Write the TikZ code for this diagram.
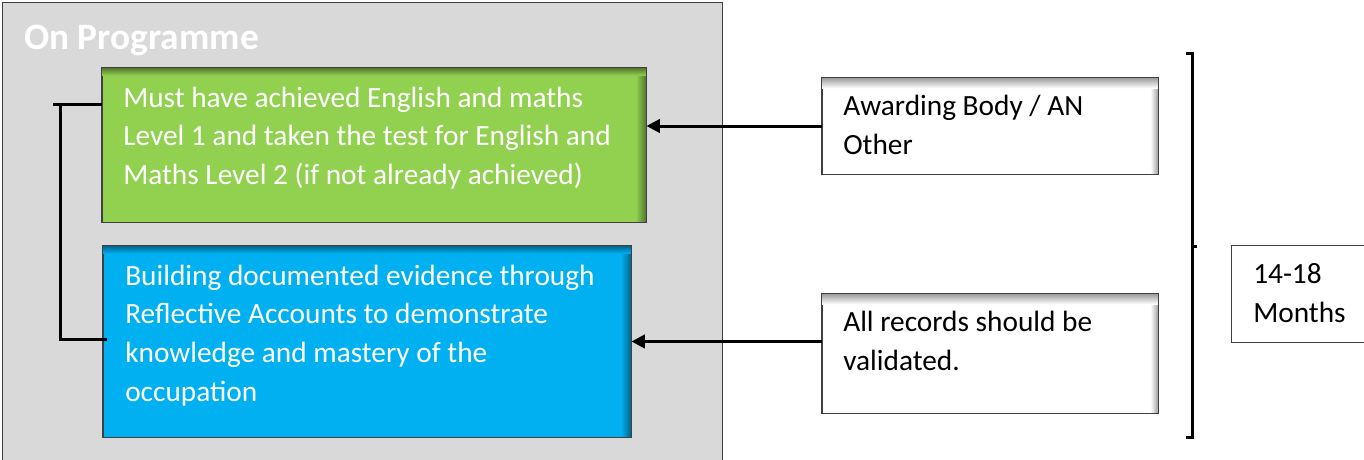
\documentclass[tikz,border=0pt]{standalone}
\usepackage{fontspec}
\setmainfont{Carlito}
\usetikzlibrary{arrows.meta}
\definecolor{grayfill}{HTML}{D9D9D9}
\definecolor{greenfill}{HTML}{92D050}
\definecolor{bluefill}{HTML}{00B0F0}
\definecolor{edgegray}{HTML}{404040}
\begin{document}
\begin{tikzpicture}[x=0.75pt,y=-0.75pt,
  box/.style={rectangle, draw=edgegray, line width=0.75pt, inner sep=0pt},
  bodytext/.style={anchor=base west, align=left, inner sep=0pt,
    font=\fontsize{22pt}{29pt}\selectfont},
  arr/.style={line width=2.25pt, -{Triangle[length=10pt,width=10pt]}},
  brk/.style={line width=2.25pt}]
\useasboundingbox (0,0) rectangle (1364,460);
% outer panel
\node[box, fill=grayfill, draw=edgegray, minimum width=540pt, minimum height=345pt] (panel) at (362,233) {};
\node[anchor=base west, inner sep=0pt, text=white, font=\fontsize{28pt}{32pt}\selectfont\bfseries] (title) at (24,50) {On Programme};
% green box
\node[box, fill=greenfill, minimum width=408pt, minimum height=115.5pt] (green) at (374,145) {};
\shade[left color=greenfill, right color=greenfill!55!black] ([xshift=-8pt]green.north east) rectangle (green.south east);
\shade[top color=greenfill!55!black, bottom color=greenfill] (green.north west) rectangle ([yshift=-6pt]green.north east);
\draw[edgegray, line width=0.75pt] (green.north west) rectangle (green.south east);
\node[bodytext, text=white] (greentext) at (123,184.5) {Must have achieved English and maths\\Level 1 and taken the test for English and\\Maths Level 2 (if not already achieved)};
% blue box
\node[box, fill=bluefill, minimum width=396pt, minimum height=143.25pt] (blue) at (367,341.5) {};
\shade[left color=bluefill, right color=bluefill!55!black] ([xshift=-8pt]blue.north east) rectangle (blue.south east);
\shade[top color=bluefill!55!black, bottom color=bluefill] (blue.north west) rectangle ([yshift=-6pt]blue.north east);
\draw[edgegray, line width=0.75pt] (blue.north west) rectangle (blue.south east);
\node[bodytext, text=white] (bluetext) at (125,401) {Building documented evidence through\\Reflective Accounts to demonstrate\\knowledge and mastery of the\\occupation};
% white boxes
\node[box, fill=white, minimum width=252pt, minimum height=72pt] (awarding) at (990,126) {};
\shade[left color=white, right color=black!40] ([xshift=-6pt]awarding.north east) rectangle (awarding.south east);
\shade[top color=black!40, bottom color=white] (awarding.north west) rectangle ([yshift=-8pt]awarding.north east);
\draw[edgegray, line width=0.75pt] (awarding.north west) rectangle (awarding.south east);
\node[bodytext] (awardingtext) at (843,154) {Awarding Body / AN\\Other};
\node[box, fill=white, minimum width=252pt, minimum height=89.25pt] (records) at (990,353.5) {};
\shade[left color=white, right color=black!40] ([xshift=-6pt]records.north east) rectangle (records.south east);
\shade[top color=black!40, bottom color=white] (records.north west) rectangle ([yshift=-8pt]records.north east);
\draw[edgegray, line width=0.75pt] (records.north west) rectangle (records.south east);
\node[bodytext] (recordstext) at (843,370.5) {All records should be\\validated.};
\node[box, fill=white, minimum width=101.25pt, minimum height=72.75pt] (months) at (1298.5,293.5) {};
\node[bodytext] (monthstext) at (1253,322) {14-18\\Months};
% arrows
\draw[arr] (awarding.west) -- (awarding.west -| green.east);
\draw[arr] (records.west |- blue.east) -- (blue.east);
% left bracket
\coordinate (lt) at (53,105);
\coordinate (lv) at (60,105);
\coordinate (lb) at (60,339);
\draw[brk] (green.west |- lt) -- (lt);
\draw[brk] (lv) -- (lb) -- ([xshift=3pt]blue.west |- lb);
% right brace
\coordinate (rt) at (1192,54);
\coordinate (rb) at (1192,437);
\coordinate (rm) at (1192,246);
\draw[brk] ([xshift=-4.5pt]rt) -- (rt) -- (rb) -- ([xshift=-4.5pt]rb);
\draw[brk] (rm) -- ([xshift=4pt]rm);
\end{tikzpicture}
\end{document}
